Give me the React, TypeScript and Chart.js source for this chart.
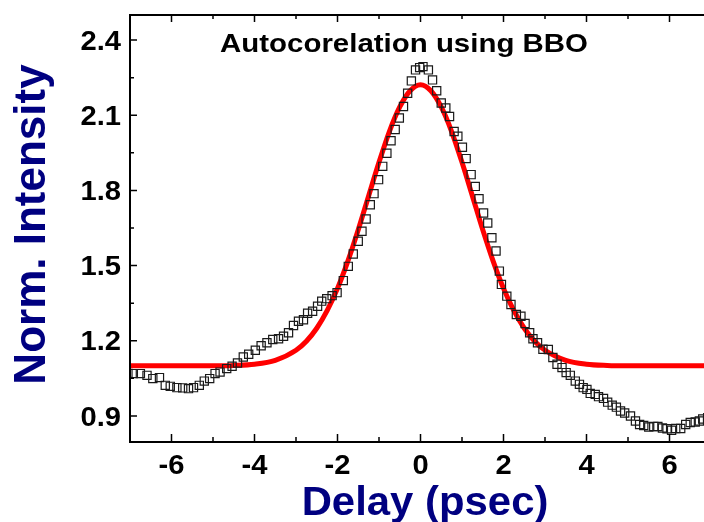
import React, { useEffect, useRef } from "react";
import { Chart, registerables } from "chart.js";

Chart.register(...registerables);

// Measured autocorrelation (open squares)
const delayPs = [
  -7.05, -6.92, -6.75, -6.59, -6.45, -6.29, -6.15, -6.03, -5.87, -5.73,
  -5.59, -5.47, -5.33, -5.21, -5.08, -4.95, -4.83, -4.67, -4.54, -4.41,
  -4.27, -4.14, -3.98, -3.84, -3.7, -3.56, -3.42, -3.3, -3.18, -3.06,
  -2.94, -2.82, -2.72, -2.6, -2.48, -2.38, -2.26, -2.13, -2.01, -1.86,
  -1.74, -1.62, -1.5, -1.41, -1.31, -1.21, -1.12, -1.01, -0.91, -0.81,
  -0.71, -0.61, -0.51, -0.41, -0.31, -0.22, -0.12, -0.02, 0.06, 0.19,
  0.29, 0.39, 0.5, 0.61, 0.7, 0.81, 0.9, 1.01, 1.1, 1.22,
  1.32, 1.41, 1.52, 1.62, 1.72, 1.82, 1.9, 1.95, 2.08, 2.18,
  2.31, 2.42, 2.52, 2.63, 2.71, 2.82, 2.95, 3.08, 3.19, 3.29,
  3.41, 3.51, 3.61, 3.73, 3.83, 3.92, 4.01, 4.09, 4.21, 4.29,
  4.41, 4.51, 4.62, 4.72, 4.82, 4.92, 5.06, 5.18, 5.28, 5.38,
  5.5, 5.62, 5.72, 5.83, 5.94, 6.05, 6.15, 6.27, 6.39, 6.5,
  6.62, 6.72, 6.8, 6.92,
];
const normIntensity = [
  1.07, 1.069, 1.069, 1.062, 1.049, 1.053, 1.022, 1.018, 1.013, 1.012,
  1.009, 1.013, 1.022, 1.039, 1.049, 1.069, 1.075, 1.089, 1.098, 1.111,
  1.135, 1.146, 1.162, 1.18, 1.192, 1.205, 1.208, 1.218, 1.232, 1.261,
  1.278, 1.284, 1.31, 1.318, 1.338, 1.358, 1.368, 1.38, 1.392, 1.44,
  1.497, 1.546, 1.597, 1.637, 1.686, 1.743, 1.787, 1.843, 1.896, 1.948,
  1.998, 2.043, 2.089, 2.135, 2.188, 2.237, 2.281, 2.29, 2.294, 2.281,
  2.241, 2.198, 2.149, 2.129, 2.095, 2.035, 2.016, 1.972, 1.927, 1.863,
  1.816, 1.767, 1.71, 1.67, 1.611, 1.558, 1.478, 1.425, 1.378, 1.345,
  1.305, 1.298, 1.269, 1.232, 1.208, 1.192, 1.166, 1.165, 1.133, 1.106,
  1.093, 1.073, 1.062, 1.039, 1.026, 1.013, 1.006, 0.99, 0.986, 0.977,
  0.97, 0.955, 0.943, 0.935, 0.92, 0.912, 0.9, 0.88, 0.866, 0.862,
  0.856, 0.858, 0.858, 0.852, 0.849, 0.843, 0.85, 0.85, 0.866, 0.874,
  0.876, 0.88, 0.888, 0.893,
];

// Fitted curve (red line)
const fitDelayPs = [
  -7, -6, -5, -4.5, -4, -3.5, -3, -2.75, -2.5, -2.25, -2, -1.75, -1.5, -1.25,
  -1, -0.75, -0.5, -0.25, 0, 0.25, 0.5, 0.75, 1, 1.25, 1.5, 1.75, 2, 2.25,
  2.5, 2.75, 3, 3.5, 4, 4.5, 5, 6, 7,
];
const fitIntensity = [
  1.1, 1.1, 1.1003, 1.1017, 1.1065, 1.122, 1.162, 1.198, 1.25, 1.32, 1.409,
  1.518, 1.643, 1.778, 1.912, 2.035, 2.133, 2.198, 2.222, 2.198, 2.133, 2.035,
  1.912, 1.778, 1.643, 1.518, 1.409, 1.32, 1.25, 1.198, 1.162, 1.122, 1.1065,
  1.1017, 1.1003, 1.1, 1.1,
];

const xTickValues = [-6, -4, -2, 0, 2, 4, 6];
const xMinorTickValues = [-7, -5, -3, -1, 1, 3, 5, 7];
const yTickValues = [0.9, 1.2, 1.5, 1.8, 2.1, 2.4];
const yMinorTickValues = [1.05, 1.35, 1.65, 1.95, 2.25];

const chartTitle = "Autocorelation using BBO";
const xAxisTitle = "Delay (psec)";
const yAxisTitle = "Norm. Intensity";

const FONT = '"Liberation Sans", Arial, Helvetica, sans-serif';
const NAVY = "#000080";

const drawStretched = (
  ctx: CanvasRenderingContext2D,
  text: string,
  x: number,
  y: number,
  sx: number,
  align: CanvasTextAlign
) => {
  ctx.save();
  ctx.translate(x, y);
  ctx.scale(sx, 1);
  ctx.textAlign = align;
  ctx.fillText(text, 0, 0);
  ctx.restore();
};

const framePlugin = {
  id: "frameAndTexts",
  afterDatasetsDraw(chart: any) {
    const { ctx, chartArea: a, scales } = chart;
    const xs = scales.x;
    const ys = scales.y;
    ctx.save();
    ctx.strokeStyle = "#000";
    ctx.lineWidth = 1.5;
    ctx.beginPath();
    const xTick = (v: number, len: number) => {
      const p = xs.getPixelForValue(v);
      ctx.moveTo(p, a.bottom);
      ctx.lineTo(p, a.bottom - len);
      ctx.moveTo(p, a.top);
      ctx.lineTo(p, a.top + len);
    };
    const yTick = (v: number, len: number) => {
      const p = ys.getPixelForValue(v);
      ctx.moveTo(a.left, p);
      ctx.lineTo(a.left + len, p);
      ctx.moveTo(a.right, p);
      ctx.lineTo(a.right - len, p);
    };
    xTickValues.forEach((v) => xTick(v, 7));
    xMinorTickValues.forEach((v) => xTick(v, 4));
    yTickValues.forEach((v) => yTick(v, 7));
    yMinorTickValues.forEach((v) => yTick(v, 4));
    ctx.stroke();
    ctx.lineWidth = 2;
    ctx.strokeRect(a.left, a.top, a.right - a.left, a.bottom - a.top + 1);
    ctx.restore();
  },
  afterDraw(chart: any) {
    const { ctx, chartArea: a, scales } = chart;
    ctx.save();
    ctx.textBaseline = "alphabetic";

    // tick labels, placed with the library's scales
    ctx.fillStyle = "#000";
    ctx.font = `bold 27px ${FONT}`;
    scales.x.ticks.forEach((t: any) => {
      const p = scales.x.getPixelForValue(t.value);
      drawStretched(ctx, String(Number(t.value)), p, a.bottom + 33, 1.08, "center");
    });
    scales.y.ticks.forEach((t: any) => {
      const p = scales.y.getPixelForValue(t.value);
      drawStretched(ctx, Number(t.value).toFixed(1), a.left - 9, p + 9.7, 1.08, "right");
    });

    // title inside plot
    ctx.font = `bold 26px ${FONT}`;
    drawStretched(ctx, chartTitle, 404, 51.5, 1.132, "center");

    // x axis title
    ctx.fillStyle = NAVY;
    ctx.font = `bold 40px ${FONT}`;
    drawStretched(ctx, xAxisTitle, 425, 515, 1.047, "center");

    // y axis title
    ctx.save();
    ctx.font = `bold 44px ${FONT}`;
    ctx.translate(45, 224.5);
    ctx.rotate(-Math.PI / 2);
    ctx.textAlign = "center";
    ctx.fillText(yAxisTitle, 0, 0);
    ctx.restore();

    ctx.restore();
  },
};

const zeroPadding = (s: any) => {
  s.paddingTop = 0;
  s.paddingBottom = 0;
  s.paddingLeft = 0;
  s.paddingRight = 0;
};

export default function App() {
  const canvasRef = useRef<HTMLCanvasElement | null>(null);

  useEffect(() => {
    if (!canvasRef.current) return;
    const chart = new Chart(canvasRef.current, {
      type: "scatter",
      data: {
        datasets: [
          {
            label: "Data",
            data: delayPs.map((x, i) => ({ x, y: normIntensity[i] })),
            showLine: false,
            pointStyle: "rect",
            pointRadius: 5.8,
            pointBorderWidth: 1.2,
            pointBorderColor: "#1a1a1a",
            pointBackgroundColor: "rgba(0,0,0,0)",
          },
          {
            label: "Fit",
            data: fitDelayPs.map((x, i) => ({ x, y: fitIntensity[i] })),
            showLine: true,
            borderColor: "#ff0000",
            borderWidth: 5,
            pointRadius: 0,
            cubicInterpolationMode: "monotone",
            fill: false,
          },
        ],
      },
      options: {
        animation: false,
        responsive: false,
        devicePixelRatio: 1,
        layout: { padding: { top: 15, right: 9, left: 0, bottom: 0 } },
        plugins: {
          legend: { display: false },
          tooltip: { enabled: false },
          title: { display: false },
        },
        scales: {
          x: {
            type: "linear",
            min: -7,
            max: 7,
            afterBuildTicks: (s: any) => {
              s.ticks = xTickValues.map((v) => ({ value: v }));
            },
            afterFit: (s: any) => {
              s.height = 81;
              zeroPadding(s);
            },
            ticks: { display: false },
            grid: { display: false, drawTicks: false },
            border: { display: false },
          },
          y: {
            type: "linear",
            min: 0.8,
            max: 2.5,
            afterBuildTicks: (s: any) => {
              s.ticks = yTickValues.map((v) => ({ value: v }));
            },
            afterFit: (s: any) => {
              s.width = 130;
              zeroPadding(s);
            },
            ticks: { display: false },
            grid: { display: false, drawTicks: false },
            border: { display: false },
          },
        },
      },
      plugins: [framePlugin],
    } as any);
    return () => chart.destroy();
  }, []);

  return (
    <div
      style={{
        position: "absolute",
        left: 0,
        top: 0,
        width: 704,
        height: 522,
        overflow: "hidden",
        background: "#fff",
      }}
    >
      <canvas ref={canvasRef} width={720} height={522} style={{ display: "block" }} />
    </div>
  );
}
